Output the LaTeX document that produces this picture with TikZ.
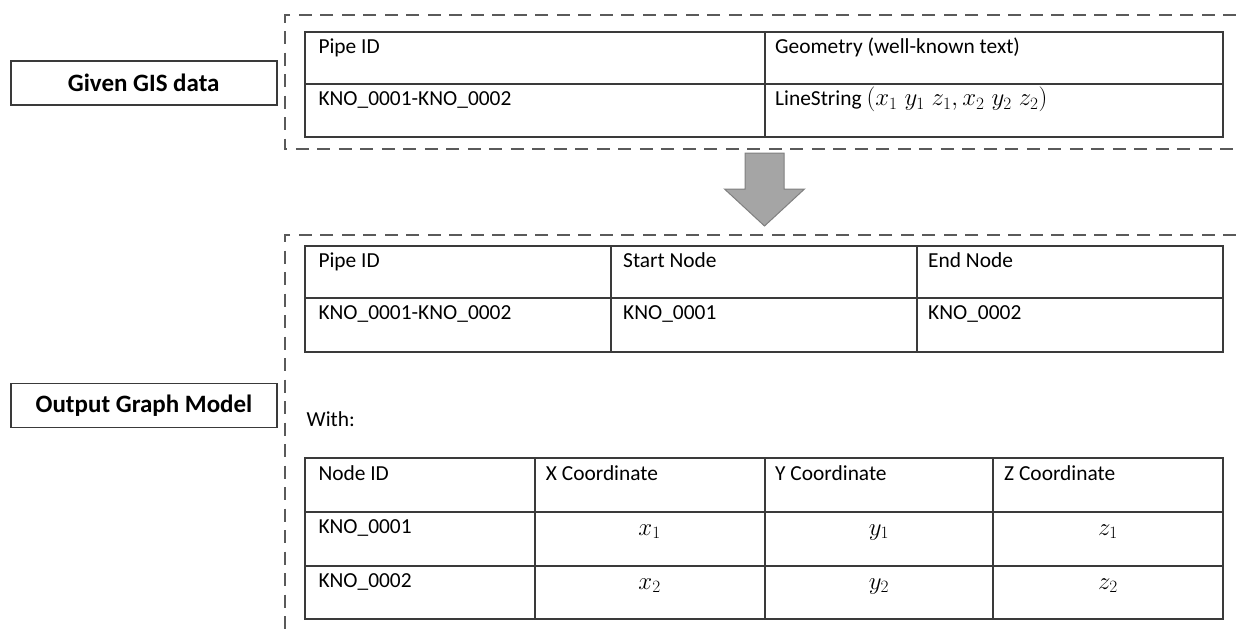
\documentclass[tikz,border=0pt]{standalone}
\usepackage{fontspec}
\setmainfont{Carlito}
\usepackage{tikz}
\usetikzlibrary{positioning}
\definecolor{tablegray}{HTML}{3A3A3A}
\definecolor{dashgray}{HTML}{5A5A5A}
\definecolor{arrowfill}{HTML}{A5A5A5}
\definecolor{arrowdraw}{HTML}{808080}
\pgfdeclarelayer{nodelayer}
\pgfdeclarelayer{edgelayer}
\pgfsetlayers{edgelayer,nodelayer,main}
\tikzstyle{none}=[inner sep=0pt]
\tikzset{celltext/.style={inner sep=0pt, anchor=base west, font=\fontsize{21.4}{26}\selectfont}}
\tikzset{cellmath/.style={inner sep=0pt, anchor=base, font=\fontsize{23.5}{28}\selectfont}}
\tikzset{labelbox/.style={draw=tablegray, line width=1.8pt, minimum width=266pt, minimum height=44pt,
font=\fontsize{25}{30}\selectfont\bfseries}}
\tikzset{grid/.style={draw=tablegray, line width=1.8pt}}
\tikzset{frame/.style={draw=dashgray, line width=2pt, dash pattern=on 13pt off 8.5pt}}

\begin{document}
\begin{tikzpicture}[x=1pt, y=-1pt]
        \useasboundingbox (0,0) rectangle (1236,630);
        \begin{pgfonlayer}{nodelayer}
            \node [style=labelbox] (0) at (143.7, 83) {Given GIS data};
            \node [style=labelbox] (1) at (144, 405.5) {Output Graph Model};
            % given table
            \node [style=celltext] (2) at (318.3, 53.5) {Pipe ID};
            \node [style=celltext] (3) at (775, 53.5) {Geometry (well-known text)};
            \node [style=celltext] (4) at (318.3, 105.5) {KNO\_0001-KNO\_0002};
            \node [style=celltext] (5) at (775, 105.5) {LineString {\fontsize{23.5}{28}\selectfont$(x_1\; y_1\; z_1, x_2\; y_2\; z_2)$}};
            % pipe table
            \node [style=celltext] (6) at (318.3, 267.5) {Pipe ID};
            \node [style=celltext] (7) at (623, 267.5) {Start Node};
            \node [style=celltext] (8) at (928, 267.5) {End Node};
            \node [style=celltext] (9) at (318.3, 319.5) {KNO\_0001-KNO\_0002};
            \node [style=celltext] (10) at (623, 319.5) {KNO\_0001};
            \node [style=celltext] (11) at (928, 319.5) {KNO\_0002};
            \node [style=celltext] (12) at (306.5, 426) {With:};
            % node table
            \node [style=celltext] (13) at (318.3, 480) {Node ID};
            \node [style=celltext] (14) at (545.7, 480) {X Coordinate};
            \node [style=celltext] (15) at (775, 480) {Y Coordinate};
            \node [style=celltext] (16) at (1004, 480) {Z Coordinate};
            \node [style=celltext] (17) at (318.3, 533.5) {KNO\_0001};
            \node [style=cellmath] (18) at (649.6, 535) {$x_1$};
            \node [style=cellmath] (19) at (879, 535) {$y_1$};
            \node [style=cellmath] (20) at (1108, 535) {$z_1$};
            \node [style=celltext] (21) at (318.3, 587.5) {KNO\_0002};
            \node [style=cellmath] (22) at (649.6, 589) {$x_2$};
            \node [style=cellmath] (23) at (879, 589) {$y_2$};
            \node [style=cellmath] (24) at (1108, 589) {$z_2$};
        \end{pgfonlayer}
        \begin{pgfonlayer}{edgelayer}
            % dashed frames
            \draw [style=frame] (1236, 15) -- (284.7, 15) -- (284.7, 149) -- (1236, 149);
            \draw [style=frame] (1236, 234.5) -- (284.7, 234.5) -- (284.7, 630);
            % arrow
            \draw [draw=arrowdraw, fill=arrowfill, line width=1pt] (745, 153) -- (784, 153) -- (784, 189)
                -- (804.5, 189) -- (764.5, 226) -- (724.5, 189) -- (745, 189) -- cycle;
            % tables
            \draw [style=grid] (305.3, 32) rectangle (1223, 137);
            \draw [style=grid] (305.3, 84) -- (1223, 84);
            \draw [style=grid] (764.6, 32) -- (764.6, 137);
            \draw [style=grid] (305.3, 246) rectangle (1223, 352);
            \draw [style=grid] (305.3, 298) -- (1223, 298);
            \draw [style=grid] (611, 246) -- (611, 352);
            \draw [style=grid] (917, 246) -- (917, 352);
            \draw [style=grid] (305.3, 458) rectangle (1223, 619);
            \draw [style=grid] (305.3, 512) -- (1223, 512);
            \draw [style=grid] (305.3, 566) -- (1223, 566);
            \draw [style=grid] (534.6, 458) -- (534.6, 619);
            \draw [style=grid] (764.6, 458) -- (764.6, 619);
            \draw [style=grid] (993, 458) -- (993, 619);
        \end{pgfonlayer}
    \end{tikzpicture}
\end{document}
